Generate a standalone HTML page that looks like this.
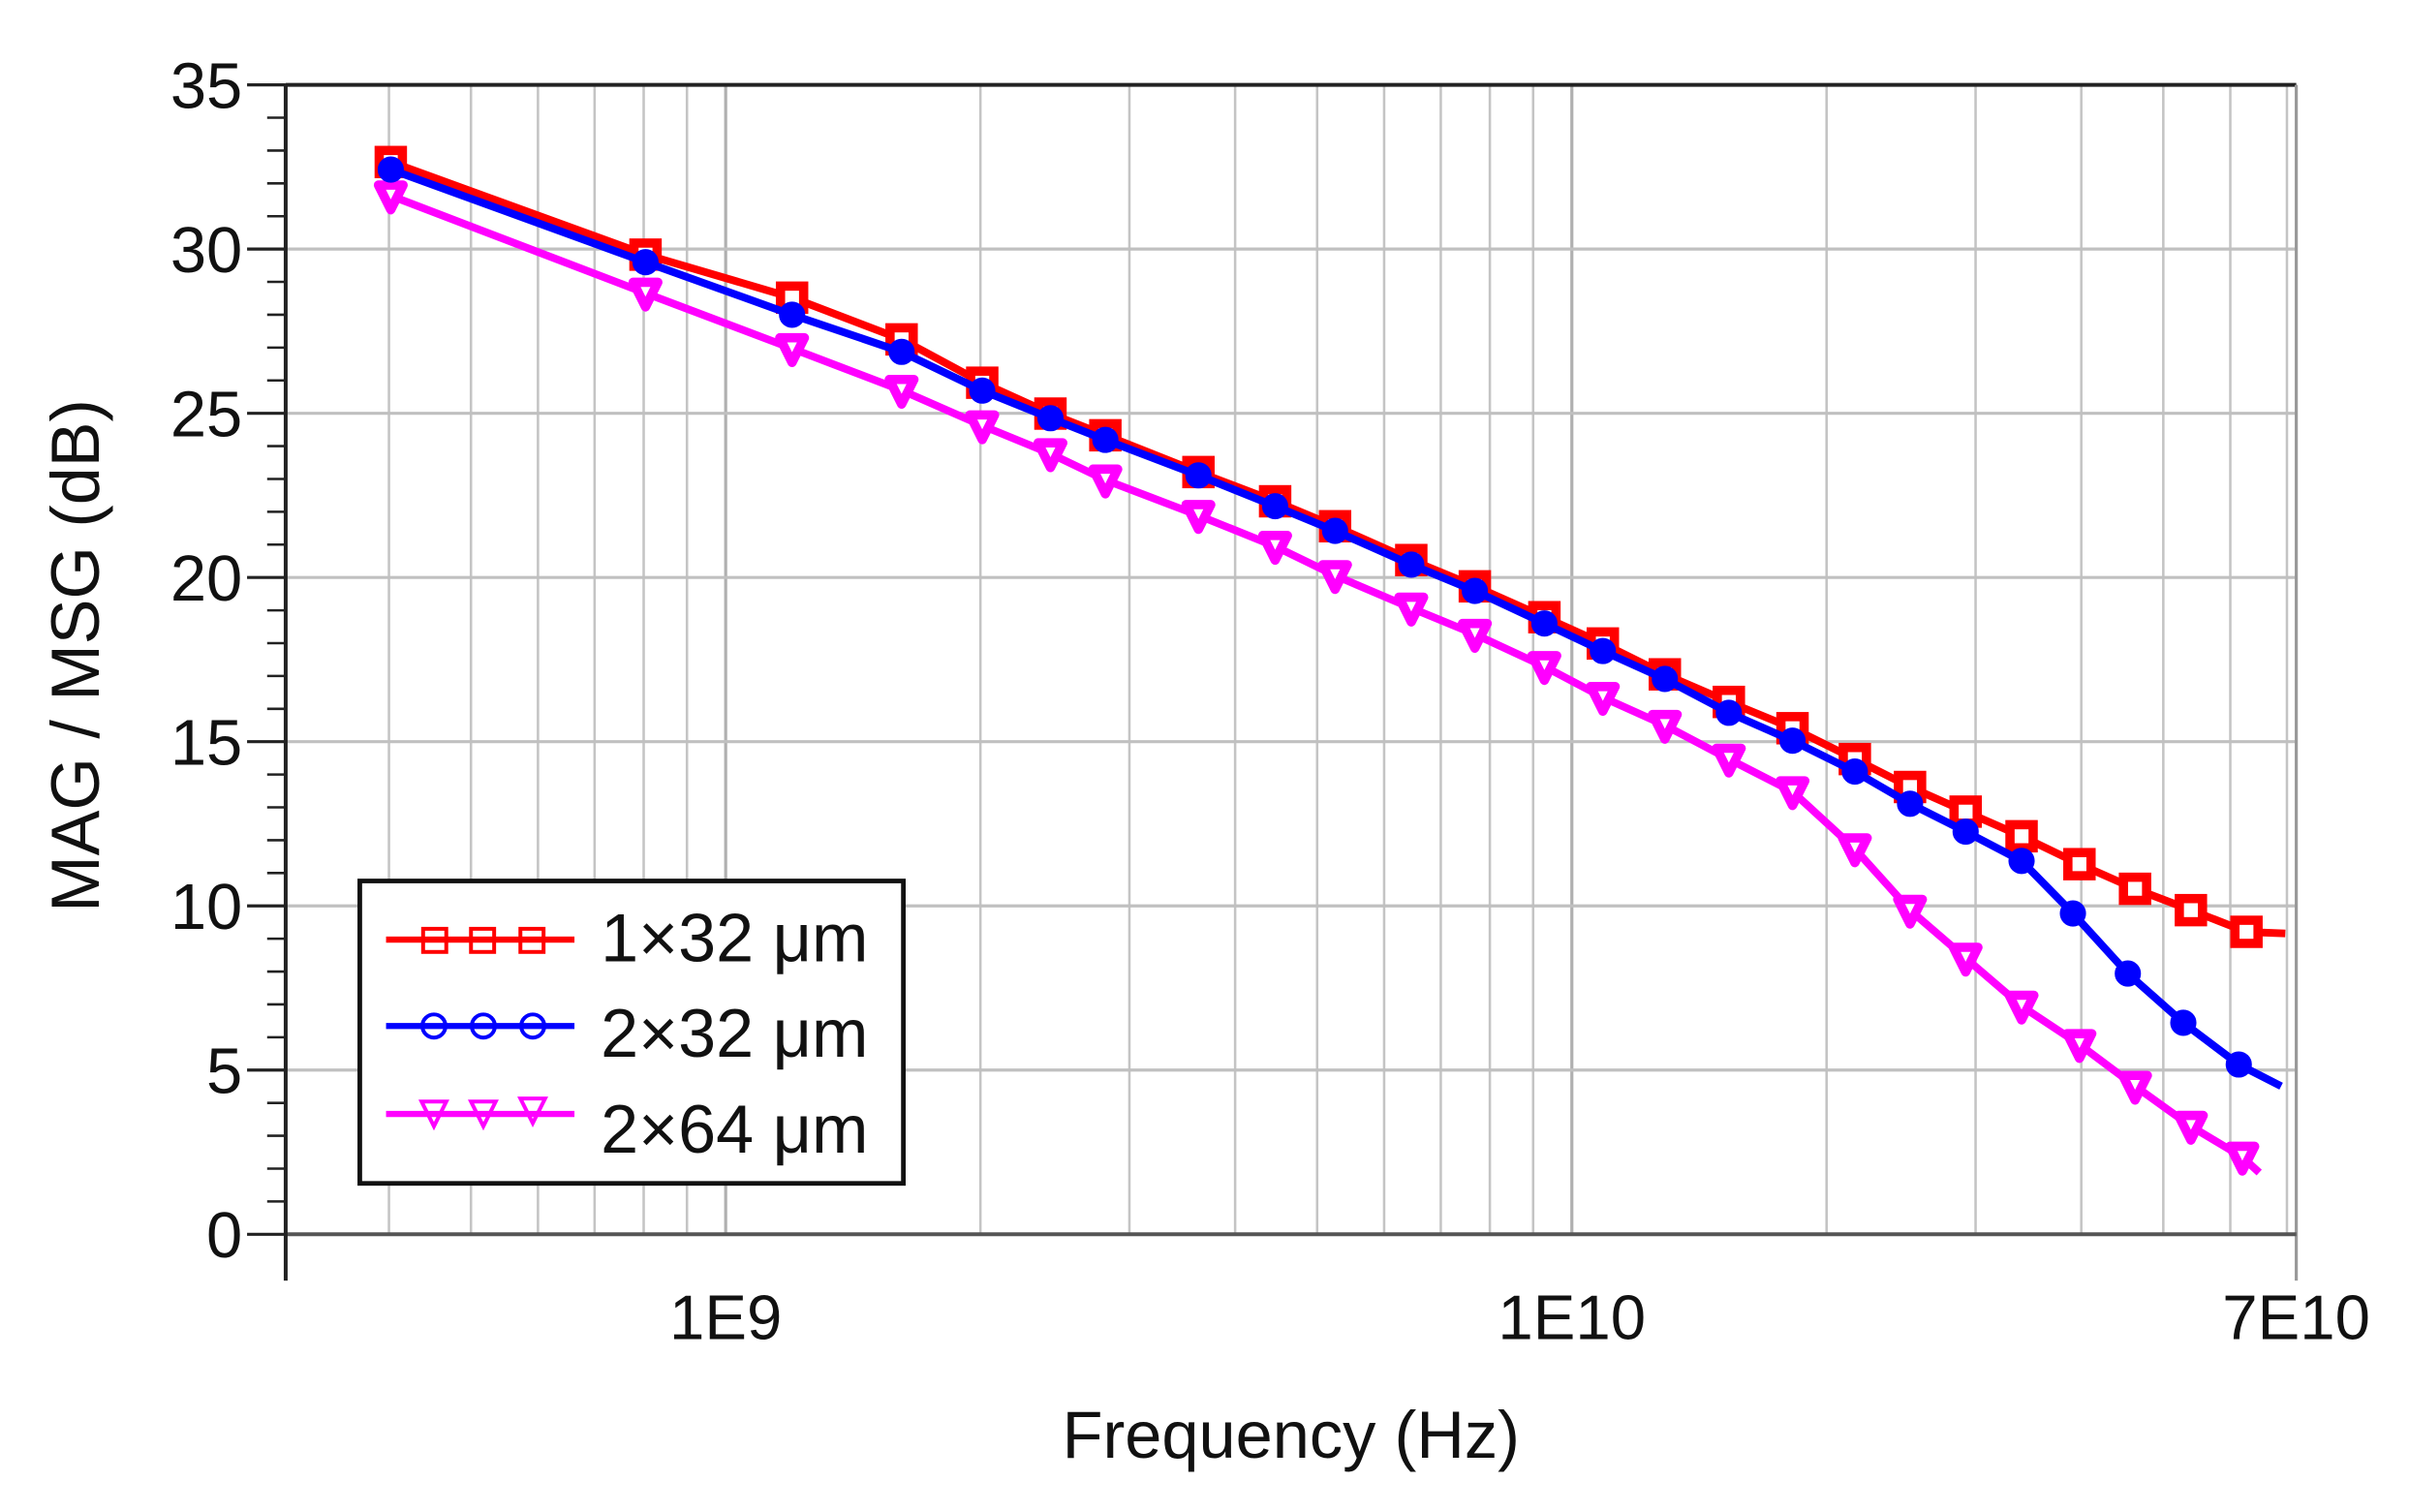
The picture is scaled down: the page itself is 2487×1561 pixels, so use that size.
<!DOCTYPE html>
<html><head><meta charset="utf-8"><style>
html,body{margin:0;padding:0;background:#fff}
svg{display:block}
text{font-family:"Liberation Sans",Arial,sans-serif;fill:#111}
</style></head><body>
<svg id="chart" width="2487" height="1561" viewBox="0 0 1560 980" preserveAspectRatio="none" xmlns="http://www.w3.org/2000/svg">
<g id="grid"></g>
<g id="axes"></g>
<g id="series"></g>
<text x="836" y="945" font-size="43" text-anchor="middle">Frequency (Hz)</text>
<text transform="translate(64,425) rotate(-90)" font-size="44" text-anchor="middle">MAG / MSG (dB)</text>
<g>
<rect x="233" y="571" width="352" height="196" fill="#fff" stroke="#111" stroke-width="3"/>
<g>
<line x1="250" y1="609" x2="372" y2="609" stroke="#ff0000" stroke-width="4"/>
<rect x="274" y="602" width="15" height="15" fill="none" stroke="#ff0000" stroke-width="2.5"/>
<rect x="305" y="602" width="15" height="15" fill="none" stroke="#ff0000" stroke-width="2.5"/>
<rect x="337" y="602" width="15" height="15" fill="none" stroke="#ff0000" stroke-width="2.5"/>
<text x="389" y="623" font-size="44">1×32 μm</text></g>
<g>
<line x1="250" y1="665" x2="372" y2="665" stroke="#0000ff" stroke-width="4"/>
<circle cx="281" cy="665" r="7.5" fill="none" stroke="#0000ff" stroke-width="2.5"/>
<circle cx="313" cy="665" r="7.5" fill="none" stroke="#0000ff" stroke-width="2.5"/>
<circle cx="345" cy="665" r="7.5" fill="none" stroke="#0000ff" stroke-width="2.5"/>
<text x="389" y="685" font-size="44">2×32 μm</text></g>
<g>
<line x1="250" y1="722" x2="372" y2="722" stroke="#ff00ff" stroke-width="4"/>
<path d="M273,714 L289,714 L281,730 Z" fill="none" stroke="#ff00ff" stroke-width="2.5"/>
<path d="M305,714 L321,714 L313,730 Z" fill="none" stroke="#ff00ff" stroke-width="2.5"/>
<path d="M337,712 L353,712 L345,728 Z" fill="none" stroke="#ff00ff" stroke-width="2.5"/>
<text x="389" y="747" font-size="44">2×64 μm</text></g>
</g>
</svg>
<script>
// Frequencies in GHz, values in dB
const freqRed = [0.402,0.804,1.198,1.614,2.01,2.42,2.81,3.62,4.46,5.25,6.46,7.68,9.28,10.88,12.88,15.33,18.23,21.6,25.1,29.2,34.0,39.8,46.3,53.9,62.7,69.7];
const dbRed   = [32.65,29.83,28.52,27.25,25.93,24.99,24.33,23.21,22.32,21.56,20.53,19.73,18.79,17.99,17.05,16.21,15.41,14.47,13.62,12.87,12.12,11.27,10.52,9.87,9.21,9.16];
const freqBlue = [0.402,0.804,1.198,1.614,2.01,2.42,2.81,3.62,4.46,5.25,6.46,7.68,9.28,10.88,12.88,15.33,18.23,21.6,25.1,29.2,34.0,39.1,45.4,52.8,61.4,68.9];
const dbBlue   = [32.42,29.6,28.0,26.87,25.69,24.85,24.19,23.11,22.17,21.42,20.39,19.59,18.6,17.76,16.91,15.88,15.03,14.09,13.11,12.26,11.37,9.77,7.94,6.44,5.17,4.51];
const freqMag = [0.402,0.804,1.198,1.614,2.01,2.42,2.81,3.62,4.46,5.25,6.46,7.68,9.28,10.88,12.88,15.33,18.23,21.6,25.1,29.2,34.0,39.8,46.3,53.9,62.0,64.9];
const dbMag   = [31.62,28.66,26.97,25.7,24.62,23.77,22.97,21.89,20.95,20.06,19.07,18.27,17.29,16.35,15.5,14.47,13.48,11.74,9.87,8.41,6.95,5.78,4.51,3.29,2.35,1.88];
const yTicks = [0,5,10,15,20,25,30,35];
const xTickLabels = [{f:1,t:"1E9"},{f:10,t:"1E10"},{f:71.8,t:"7E10"}];

const NS="http://www.w3.org/2000/svg";
const L=185,R=1487,T=55,B=800;
const fMin=0.302,fMax=71.8,yMin=0,yMax=35;
const xs=f=>L+(Math.log10(f)-Math.log10(fMin))/(Math.log10(fMax)-Math.log10(fMin))*(R-L);
const ys=v=>B-(v-yMin)/(yMax-yMin)*(B-T);
function mk(tag,attrs,parent){const e=document.createElementNS(NS,tag);for(const k in attrs)e.setAttribute(k,attrs[k]);parent.appendChild(e);return e;}
const grid=document.getElementById('grid'),axes=document.getElementById('axes'),series=document.getElementById('series');

for(let d=-1;d<=1;d++){for(let m=1;m<=9;m++){const f=m*Math.pow(10,d);if(f<=fMin||f>=fMax)continue;
 const x=xs(f);const g=mk('line',{x1:x,y1:T,x2:x,y2:B,stroke:(m==1?'#b0b0b0':'#c4c4c4'),'stroke-width':(m==1?2:1.6)},grid);
 
 }}
for(let v=0;v<=35;v++){const y=ys(v);
 if(v%5==0){
  if(v>0&&v<35){const g=mk('line',{x1:L,y1:y,x2:R,y2:y,stroke:'#c0c0c0','stroke-width':2},grid);
   
   }
  const t=mk('line',{x1:L-25,y1:y,x2:L,y2:y,stroke:'#222','stroke-width':2},axes);
  
  
 } else {
  const t=mk('line',{x1:L-12,y1:y,x2:L,y2:y,stroke:'#222','stroke-width':1.6},axes);
  
  
 }}
yTicks.forEach(v=>{const t=mk('text',{x:157,y:ys(v)+15,'font-size':42,'text-anchor':'end'},axes);t.textContent=v;
 
 });
xTickLabels.forEach(o=>{const t=mk('text',{x:xs(o.f),y:868,'font-size':41,'text-anchor':'middle'},axes);t.textContent=o.t;
 
 });
[[L,T,R,T,'#222',2.5],[R,T,R,830,'#999',2],[L,B,R,B,'#555',2.5],[L,T,L,830,'#222',2.5]].forEach(a=>{
 const e=mk('line',{x1:a[0],y1:a[1],x2:a[2],y2:a[3],stroke:a[4],'stroke-width':a[5]},axes);
 
 });

function drawSeries(fr,db,color,shape,name){
 const g=mk('g',{},series);
 
 
 const pts=fr.map((f,i)=>xs(f).toFixed(1)+','+ys(db[i]).toFixed(1)).join(' ');
 const pl=mk('polyline',{points:pts,fill:'none',stroke:color,'stroke-width':5,'stroke-linejoin':'round'},g);
 
 
 for(let i=0;i<fr.length-1;i++){const x=xs(fr[i]),y=ys(db[i]);let m;
  if(shape=='square')m=mk('rect',{x:x-7.5,y:y-7.5,width:15,height:15,fill:'#fff',stroke:color,'stroke-width':6},g);
  else if(shape=='circle')m=mk('circle',{cx:x,cy:y,r:7,fill:color,stroke:color,'stroke-width':3},g);
  else m=mk('path',{d:`M${x-8},${y-7} L${x+8},${y-7} L${x},${y+9} Z`,fill:'#fff',stroke:color,'stroke-width':6,'stroke-linejoin':'round'},g);
  
  }
}
drawSeries(freqMag,dbMag,'#ff00ff','tri','series-2x64');
drawSeries(freqRed,dbRed,'#ff0000','square','series-1x32');
drawSeries(freqBlue,dbBlue,'#0000ff','circle','series-2x32');
</script>
</body></html>
